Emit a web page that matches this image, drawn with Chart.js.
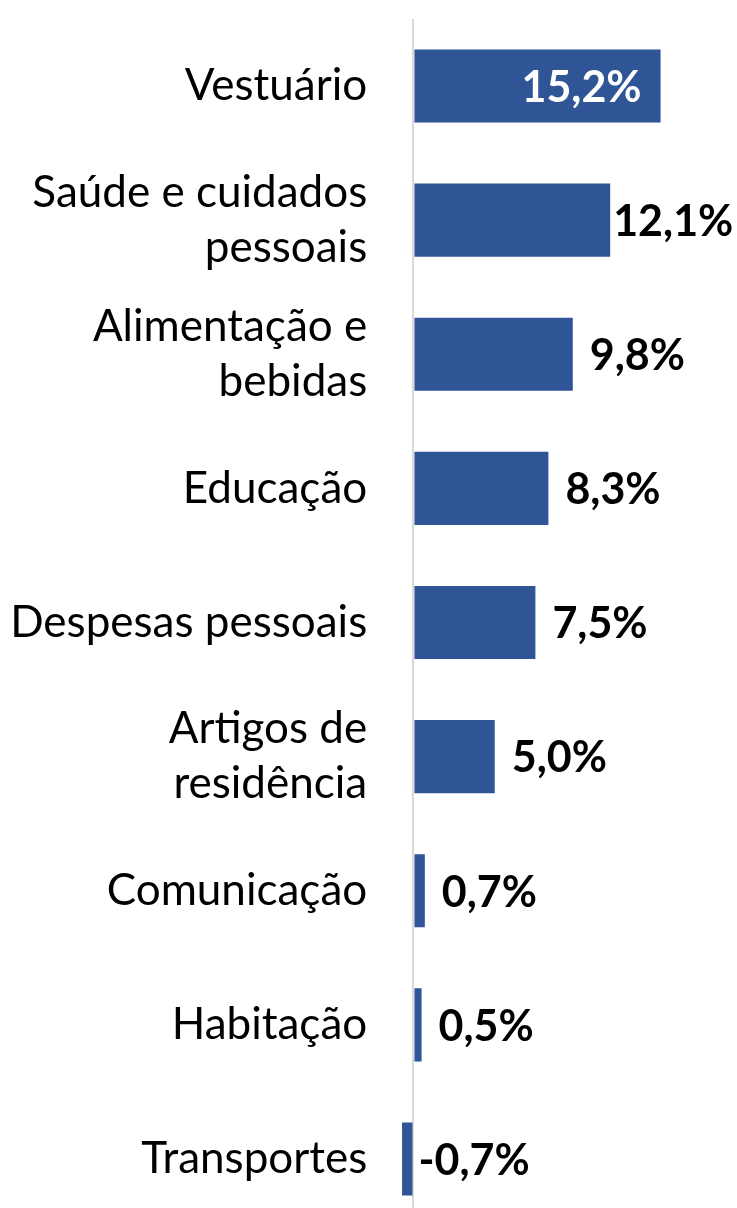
<!DOCTYPE html>
<html>
<head>
<meta charset="utf-8">
<script src="https://cdn.jsdelivr.net/npm/chart.js@4"></script>
<style>
  html, body { margin: 0; padding: 0; background: #fff; overflow: hidden; }
  #wrap { position: relative; width: 737px; height: 1226px; }
</style>
</head>
<body>
<div id="wrap"><canvas id="chartIPCA"></canvas></div>
<script>
// data ----------------------------------------------------------------
const categories = [
  'Vestuário',
  ['Saúde e cuidados', 'pessoais'],
  ['Alimentação e', 'bebidas'],
  'Educação',
  'Despesas pessoais',
  ['Artigos de', 'residência'],
  'Comunicação',
  'Habitação',
  'Transportes'
];
const values = [15.2, 12.1, 9.8, 8.3, 7.5, 5.0, 0.7, 0.5, -0.7];

// value labels at the end of the bars
const barLabels = {
  id: 'barLabels',
  afterDatasetsDraw(chart) {
    const ctx = chart.ctx;
    const area = chart.chartArea;
    const meta = chart.getDatasetMeta(0);
    ctx.save();
    ctx.font = 'bold 43px Lato';
    ctx.textBaseline = 'middle';
    meta.data.forEach(function (bar, i) {
      const txt = values[i].toFixed(1).replace('.', ',') + '%';
      const w = ctx.measureText(txt).width;
      const end = Math.max(bar.x, bar.base);
      let x, color = '#000';
      if (values[i] < 0) {
        x = bar.base + 6;
      } else if (end + 3 + w <= area.right) {
        // outside, pushed back a bit when close to the edge
        x = Math.max(end + 3, Math.min(end + 17, area.right - 7 - w));
      } else {
        // no room: inside the bar, white
        x = end - 19 - w;
        color = '#fff';
      }
      ctx.fillStyle = color;
      ctx.textAlign = 'left';
      ctx.fillText(txt, x, bar.y + 2);
    });
    ctx.restore();
  }
};

function chartIPCA() {
  const dataIPCA = {
    labels: categories,
    datasets: [{
      data: values,
      backgroundColor: '#2F5597',
      borderWidth: 0,
      categoryPercentage: 1,
      barPercentage: 0.545
    }]
  };

  const configIPCA = {
    type: 'bar',
    data: dataIPCA,
    options: {
      indexAxis: 'y',
      responsive: true,
      maintainAspectRatio: false,
      animation: false,
      layout: { padding: { top: 19, right: 0, bottom: 0, left: 0 } },
      plugins: {
        legend: { display: false },
        tooltip: { enabled: false }
      },
      scales: {
        x: {
          min: -1,
          max: 19.9,
          ticks: { display: false, stepSize: 1 },
          border: { display: false },
          grid: {
            drawTicks: false,
            lineWidth: 2,
            color: function (c) {
              return c.tick && c.tick.value === 0 ? '#d9d9d9' : 'rgba(0,0,0,0)';
            }
          }
        },
        y: {
          border: { display: false },
          grid: { display: false, drawTicks: false },
          afterFit: function (scale) {
            scale.width = 397.2;
            scale.paddingTop = 0;
            scale.paddingBottom = 0;
          },
          ticks: {
            color: '#000',
            padding: 30,
            font: { family: 'Lato', size: 44, lineHeight: 1.25 }
          }
        }
      }
    },
    plugins: [barLabels]
  };

  const myChartIPCA = new Chart(
    document.getElementById('chartIPCA'),
    configIPCA
  );
}

chartIPCA();
</script>
</body>
</html>
